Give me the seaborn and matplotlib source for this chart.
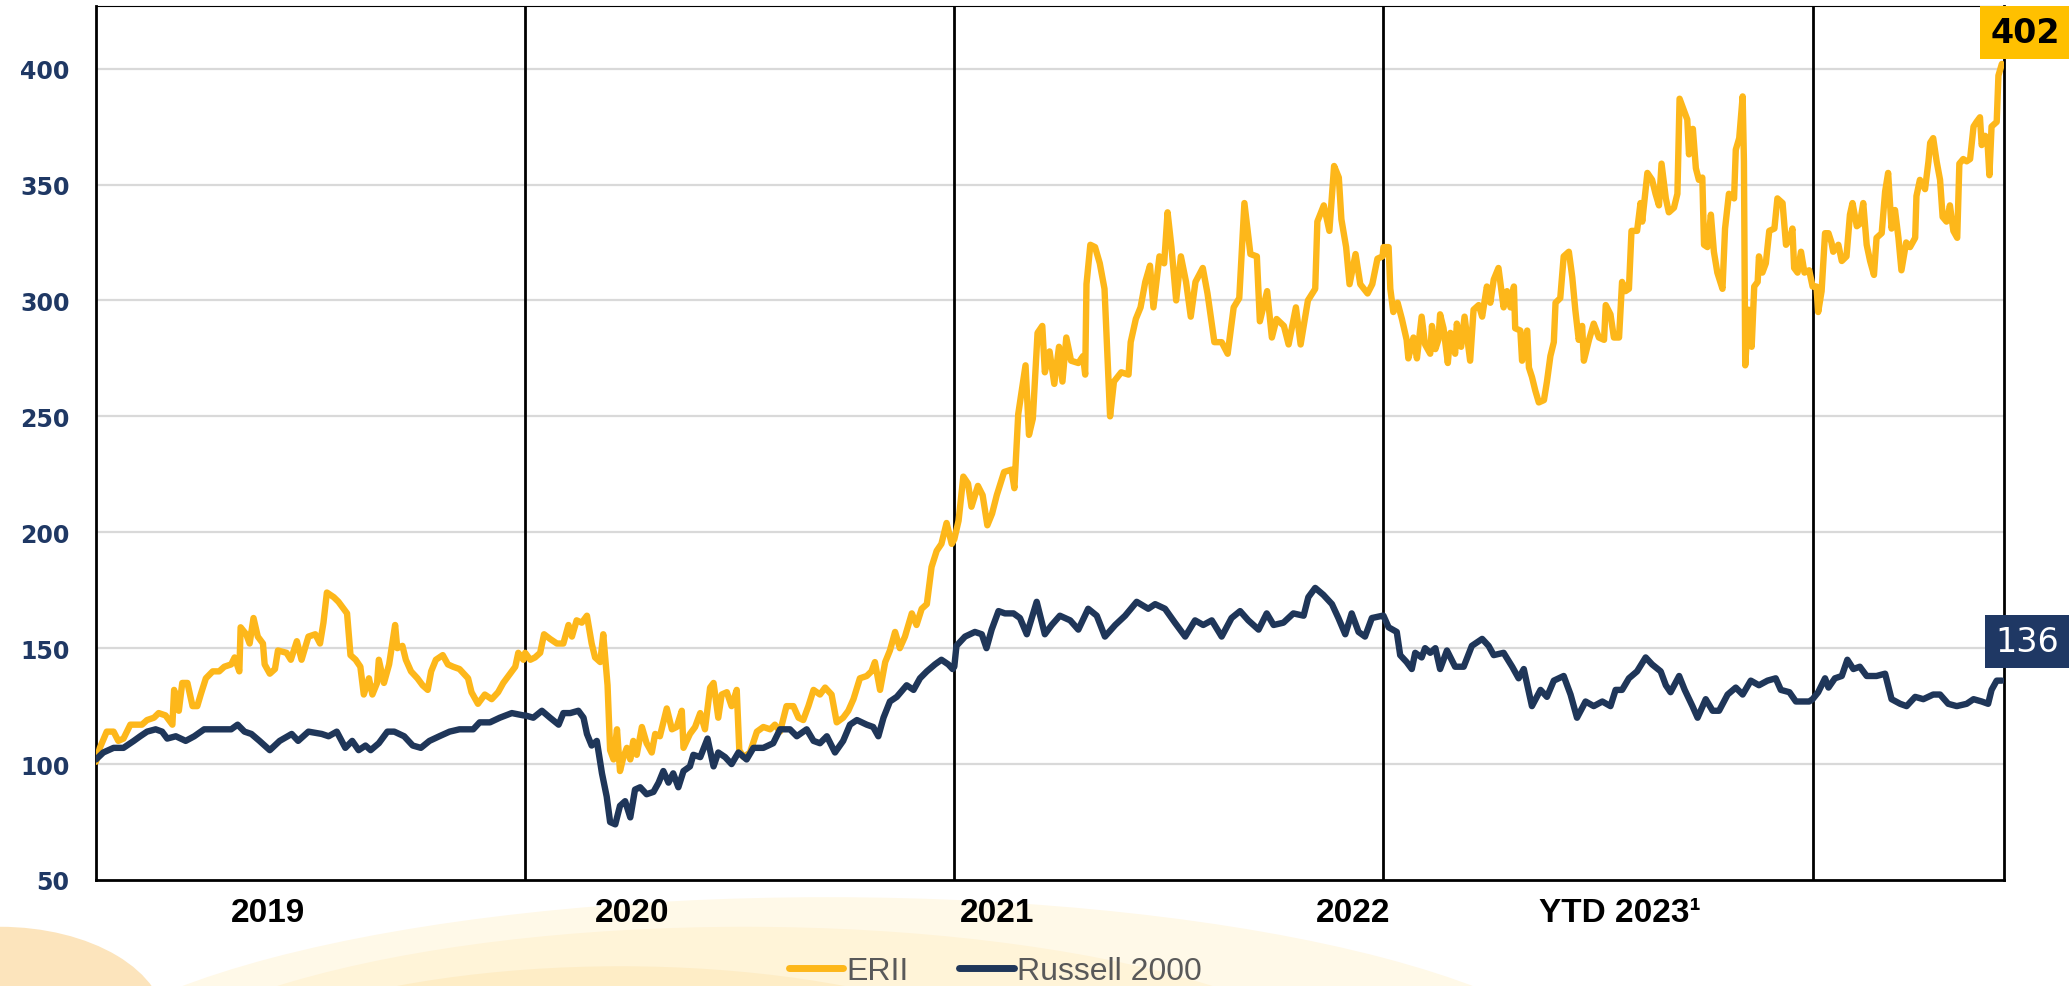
import matplotlib
matplotlib.use("Agg")
import matplotlib.pyplot as plt
from matplotlib.patches import Ellipse
import seaborn as sns
import pandas as pd

# ---- data: fraction of year -> value (indexed, start = 100) ----
erii_2019_t = [0.000, 0.009, 0.025, 0.041, 0.052, 0.064, 0.080, 0.096, 0.107, 0.119, 0.135, 0.146, 0.162, 0.178,
               0.182, 0.193, 0.201, 0.213, 0.225, 0.236, 0.244, 0.256, 0.272, 0.287, 0.299, 0.315, 0.323, 0.334,
               0.337, 0.350, 0.358, 0.367, 0.377, 0.389, 0.393, 0.405, 0.417, 0.424, 0.444, 0.454, 0.468, 0.479,
               0.495, 0.511, 0.522, 0.530, 0.538, 0.554, 0.565, 0.577, 0.585, 0.593, 0.605, 0.616, 0.624, 0.636,
               0.644, 0.655, 0.659, 0.671, 0.683, 0.697, 0.702, 0.714, 0.722, 0.734, 0.749, 0.761, 0.773, 0.781,
               0.792, 0.808, 0.820, 0.832, 0.847, 0.867, 0.875, 0.890, 0.906, 0.922, 0.937, 0.949, 0.961, 0.977,
               0.984, 0.996]
erii_2019 = [101, 107, 114, 114, 110, 111, 117, 117, 117, 119, 120, 122, 121, 117,
             132, 123, 135, 135, 125, 125, 130, 137, 140, 140, 142, 143, 146, 140,
             159, 156, 152, 163, 155, 152, 143, 139, 141, 149, 148, 145, 153, 145,
             155, 156, 152, 161, 174, 172, 170, 167, 165, 147, 145, 142, 130, 137,
             130, 135, 145, 135, 143, 160, 150, 151, 145, 140, 137, 134, 132, 140,
             145, 147, 143, 142, 141, 137, 131, 126, 130, 128, 131, 135, 138, 142,
             148, 145]

erii_2020_t = [0.000, 0.012, 0.023, 0.035, 0.044, 0.058, 0.074, 0.089, 0.101, 0.109, 0.120, 0.132, 0.144, 0.155,
               0.163, 0.175, 0.182, 0.192, 0.198, 0.206, 0.214, 0.221, 0.229, 0.237, 0.245, 0.252, 0.260, 0.272,
               0.283, 0.295, 0.303, 0.314, 0.330, 0.342, 0.353, 0.365, 0.369, 0.384, 0.396, 0.408, 0.419, 0.431,
               0.439, 0.450, 0.458, 0.470, 0.481, 0.493, 0.499, 0.509, 0.524, 0.540, 0.555, 0.571, 0.582, 0.594,
               0.609, 0.625, 0.637, 0.648, 0.660, 0.672, 0.687, 0.699, 0.714, 0.726, 0.741, 0.753, 0.765, 0.780,
               0.796, 0.807, 0.815, 0.827, 0.839, 0.850, 0.862, 0.873, 0.885, 0.901, 0.912, 0.924, 0.936, 0.947,
               0.959, 0.970, 0.982, 0.994]
erii_2020 = [148, 145, 146, 148, 156, 154, 152, 152, 160, 155, 162, 161, 164, 152,
             146, 144, 156, 134, 106, 102, 115, 97, 103, 107, 102, 110, 104, 116,
             109, 105, 113, 112, 124, 115, 116, 123, 107, 113, 116, 122, 115, 133,
             135, 120, 130, 131, 125, 132, 106, 103, 105, 114, 116, 115, 117, 114,
             125, 125, 120, 119, 125, 132, 130, 133, 130, 118, 120, 123, 128, 137,
             138, 140, 144, 132, 144, 149, 157, 150, 155, 165, 160, 167, 169, 185,
             192, 195, 204, 195]

erii_2021_t = [0.000, 0.010, 0.021, 0.032, 0.040, 0.055, 0.066, 0.077, 0.088, 0.099, 0.116, 0.133, 0.140, 0.149,
               0.158, 0.166, 0.174, 0.183, 0.194, 0.205, 0.211, 0.222, 0.233, 0.244, 0.252, 0.261, 0.272, 0.289,
               0.300, 0.305, 0.308, 0.317, 0.328, 0.339, 0.350, 0.363, 0.372, 0.389, 0.406, 0.411, 0.423, 0.434,
               0.445, 0.456, 0.464, 0.478, 0.489, 0.497, 0.506, 0.517, 0.528, 0.540, 0.551, 0.562, 0.579, 0.590,
               0.606, 0.623, 0.637, 0.651, 0.664, 0.676, 0.690, 0.705, 0.712, 0.729, 0.740, 0.751, 0.768, 0.779,
               0.796, 0.807, 0.824, 0.841, 0.846, 0.861, 0.874, 0.885, 0.896, 0.902, 0.913, 0.921, 0.935, 0.946,
               0.963, 0.974, 0.986, 0.998]
erii_2021 = [197, 205, 224, 221, 211, 220, 216, 203, 208, 216, 226, 227, 219, 251,
             262, 272, 242, 249, 286, 289, 269, 278, 264, 280, 265, 284, 274, 273,
             276, 268, 307, 324, 323, 316, 305, 250, 265, 269, 268, 282, 292, 297,
             308, 315, 297, 319, 316, 338, 323, 300, 319, 308, 293, 308, 314, 303,
             282, 282, 277, 297, 301, 342, 320, 319, 291, 304, 284, 292, 289, 281,
             297, 281, 300, 305, 334, 341, 330, 358, 353, 335, 323, 307, 320, 307,
             303, 307, 318, 319]

erii_2022_t = [0.000, 0.012, 0.016, 0.023, 0.033, 0.043, 0.054, 0.058, 0.070, 0.078, 0.089, 0.097, 0.109, 0.113,
               0.121, 0.128, 0.132, 0.140, 0.150, 0.156, 0.167, 0.171, 0.181, 0.189, 0.202, 0.210, 0.222, 0.230,
               0.241, 0.249, 0.257, 0.268, 0.280, 0.288, 0.296, 0.304, 0.307, 0.319, 0.323, 0.335, 0.339, 0.346,
               0.354, 0.362, 0.374, 0.381, 0.389, 0.397, 0.401, 0.412, 0.420, 0.432, 0.440, 0.447, 0.455, 0.463,
               0.467, 0.479, 0.490, 0.502, 0.514, 0.518, 0.529, 0.537, 0.549, 0.556, 0.564, 0.572, 0.578, 0.591,
               0.599, 0.603, 0.615, 0.626, 0.634, 0.642, 0.648, 0.658, 0.665, 0.677, 0.685, 0.690, 0.700, 0.708,
               0.712, 0.721, 0.728, 0.735, 0.743, 0.747, 0.755, 0.763, 0.770, 0.778, 0.790, 0.796, 0.805, 0.817,
               0.821, 0.829, 0.837, 0.840, 0.843, 0.851, 0.858, 0.864, 0.872, 0.875, 0.883, 0.891, 0.899, 0.911,
               0.918, 0.930, 0.938, 0.946, 0.953, 0.957, 0.965, 0.973, 0.981, 0.992]
erii_2022 = [323, 323, 305, 295, 299, 292, 283, 275, 284, 275, 293, 281, 277, 289,
             279, 283, 294, 288, 273, 286, 277, 290, 280, 293, 274, 296, 298, 293,
             306, 299, 309, 314, 297, 304, 297, 306, 288, 287, 274, 287, 271, 267,
             261, 256, 257, 265, 276, 282, 299, 301, 319, 321, 310, 296, 283, 289,
             274, 283, 290, 284, 283, 298, 294, 284, 284, 308, 304, 305, 330, 330,
             342, 334, 355, 352, 346, 341, 359, 344, 338, 340, 346, 387, 382, 378,
             363, 374, 357, 352, 353, 324, 323, 337, 321, 312, 305, 331, 346, 344,
             365, 370, 388, 360, 272, 296, 280, 306, 308, 319, 312, 316, 330, 331,
             344, 342, 324, 326, 331, 314, 312, 321, 312, 313]

erii_2023_t = [0.000, 0.009, 0.013, 0.021, 0.029, 0.037, 0.044, 0.048, 0.060, 0.068, 0.079, 0.087, 0.093, 0.103,
               0.110, 0.118, 0.126, 0.134, 0.143, 0.149, 0.161, 0.169, 0.176, 0.184, 0.192, 0.200, 0.207, 0.218,
               0.227, 0.239, 0.242, 0.250, 0.262, 0.270, 0.274, 0.281, 0.289, 0.297, 0.303, 0.312, 0.320, 0.328,
               0.337, 0.342, 0.351, 0.359, 0.367, 0.375, 0.382, 0.390, 0.394, 0.402, 0.407, 0.412, 0.417, 0.429,
               0.433, 0.441]
erii_2023 = [306, 306, 295, 304, 329, 329, 325, 321, 324, 317, 319, 337, 342, 332,
             333, 342, 324, 317, 311, 327, 329, 347, 355, 331, 339, 327, 313, 325,
             323, 327, 345, 352, 348, 360, 368, 370, 360, 352, 336, 334, 341, 330,
             327, 359, 361, 360, 361, 375, 377, 379, 367, 371, 370, 354, 375, 377,
             397, 402]

r2k_2019_t = [0.000, 0.017, 0.041, 0.064, 0.088, 0.103, 0.119, 0.139, 0.154, 0.166, 0.186, 0.209, 0.229, 0.252,
              0.276, 0.295, 0.315, 0.330, 0.346, 0.362, 0.381, 0.405, 0.428, 0.456, 0.471, 0.495, 0.526, 0.542,
              0.561, 0.581, 0.597, 0.612, 0.628, 0.640, 0.659, 0.679, 0.695, 0.718, 0.738, 0.757, 0.777, 0.800,
              0.824, 0.847, 0.879, 0.894, 0.918, 0.941, 0.969, 0.996]
r2k_2019 = [102, 105, 107, 107, 110, 112, 114, 115, 114, 111, 112, 110, 112, 115,
            115, 115, 115, 117, 114, 113, 110, 106, 110, 113, 110, 114, 113, 112,
            114, 107, 110, 106, 108, 106, 109, 114, 114, 112, 108, 107, 110, 112,
            114, 115, 115, 118, 118, 120, 122, 121]

r2k_2020_t = [0.000, 0.019, 0.039, 0.058, 0.078, 0.089, 0.105, 0.124, 0.136, 0.144, 0.155, 0.167, 0.179, 0.190,
              0.198, 0.210, 0.221, 0.233, 0.245, 0.256, 0.268, 0.283, 0.299, 0.311, 0.322, 0.334, 0.345, 0.357,
              0.369, 0.384, 0.392, 0.408, 0.425, 0.439, 0.450, 0.466, 0.481, 0.497, 0.516, 0.532, 0.555, 0.578,
              0.594, 0.617, 0.633, 0.656, 0.672, 0.687, 0.703, 0.722, 0.741, 0.757, 0.773, 0.796, 0.811, 0.823,
              0.835, 0.850, 0.866, 0.889, 0.905, 0.920, 0.936, 0.955, 0.970, 0.986, 0.996]
r2k_2020 = [121, 120, 123, 120, 117, 122, 122, 123, 120, 113, 108, 110, 96, 86,
            75, 74, 82, 84, 77, 89, 90, 87, 88, 92, 97, 92, 96, 90,
            97, 99, 104, 103, 111, 99, 105, 103, 100, 105, 102, 107, 107, 109,
            115, 115, 112, 115, 110, 109, 112, 105, 110, 117, 119, 117, 116, 112,
            120, 127, 129, 134, 132, 137, 140, 143, 145, 143, 141]

r2k_2021_t = [0.000, 0.005, 0.025, 0.048, 0.064, 0.075, 0.087, 0.103, 0.118, 0.138, 0.153, 0.169, 0.192, 0.211,
              0.227, 0.246, 0.270, 0.289, 0.312, 0.332, 0.351, 0.375, 0.398, 0.425, 0.452, 0.468, 0.491, 0.514,
              0.538, 0.561, 0.580, 0.600, 0.623, 0.646, 0.666, 0.685, 0.709, 0.728, 0.744, 0.767, 0.790, 0.814,
              0.825, 0.841, 0.860, 0.880, 0.895, 0.911, 0.926, 0.942, 0.957, 0.973, 0.998]
r2k_2021 = [142, 151, 155, 157, 156, 150, 158, 166, 165, 165, 163, 156, 170, 156,
            160, 164, 162, 158, 167, 164, 155, 160, 164, 170, 167, 169, 167, 161,
            155, 162, 160, 162, 155, 163, 166, 162, 158, 165, 160, 161, 165, 164,
            172, 176, 173, 169, 163, 156, 165, 157, 155, 163, 164]

r2k_2022_t = [0.000, 0.012, 0.031, 0.039, 0.054, 0.066, 0.074, 0.089, 0.097, 0.109, 0.121, 0.132, 0.148, 0.167,
              0.187, 0.206, 0.230, 0.245, 0.257, 0.280, 0.300, 0.315, 0.327, 0.346, 0.366, 0.381, 0.397, 0.420,
              0.436, 0.451, 0.471, 0.490, 0.510, 0.529, 0.541, 0.556, 0.572, 0.591, 0.611, 0.626, 0.646, 0.658,
              0.669, 0.689, 0.702, 0.720, 0.732, 0.751, 0.767, 0.782, 0.802, 0.821, 0.837, 0.856, 0.875, 0.895,
              0.914, 0.926, 0.946, 0.961, 0.981, 0.992]
r2k_2022 = [164, 159, 157, 147, 144, 141, 148, 146, 150, 148, 150, 141, 149, 142,
            142, 151, 154, 151, 147, 148, 142, 137, 141, 125, 132, 129, 136, 138,
            130, 120, 127, 125, 127, 125, 132, 132, 137, 140, 146, 143, 140, 134,
            131, 138, 132, 125, 120, 128, 123, 123, 130, 133, 130, 136, 134, 136,
            137, 132, 131, 127, 127, 127]

r2k_2023_t = [0.000, 0.013, 0.029, 0.037, 0.052, 0.068, 0.081, 0.095, 0.110, 0.126, 0.149, 0.169, 0.184, 0.204,
              0.219, 0.239, 0.258, 0.281, 0.297, 0.316, 0.336, 0.359, 0.375, 0.394, 0.409, 0.417, 0.429, 0.441]
r2k_2023 = [128, 131, 137, 133, 137, 138, 145, 141, 142, 138, 138, 139, 128, 126,
            125, 129, 128, 130, 130, 126, 125, 126, 128, 127, 126, 132, 136, 136]

years = [2019, 2020, 2021, 2022, 2023]
year_labels = ["2019", "2020", "2021", "2022", "YTD 2023\u00b9"]
label_pos = [2019.40, 2020.25, 2021.10, 2021.93, 2022.55]
x_end = 2023.446

ERII_COLOR = "#FDB71A"
R2K_COLOR = "#1F3659"


def build(name, parts):
    rows = []
    for yr, (ts, vs) in zip(years, parts):
        for t, v in zip(ts, vs):
            rows.append({"t": yr + t, "value": v, "series": name})
    return rows


rows = build("ERII", [(erii_2019_t, erii_2019), (erii_2020_t, erii_2020), (erii_2021_t, erii_2021),
                      (erii_2022_t, erii_2022), (erii_2023_t, erii_2023)])
rows += build("Russell 2000", [(r2k_2019_t, r2k_2019), (r2k_2020_t, r2k_2020), (r2k_2021_t, r2k_2021),
                               (r2k_2022_t, r2k_2022), (r2k_2023_t, r2k_2023)])
df = pd.DataFrame(rows)

sns.set_theme(style="white")
plt.rcParams["font.family"] = ["DejaVu Sans"]

fig = plt.figure(figsize=(20.69, 9.87), dpi=100)

# faint decorative swoosh behind the bottom area
for cx, cy, w, h, col in [(0.40, -0.12, 0.76, 0.42, "#FFF9E8"), (0.36, -0.13, 0.62, 0.38, "#FFF4D8"),
                          (0.30, -0.15, 0.46, 0.34, "#FEEDC6"), (0.0, -0.04, 0.16, 0.20, "#FCE4BC")]:
    fig.patches.append(Ellipse((cx, cy), w, h, transform=fig.transFigure, facecolor=col,
                               edgecolor="none", zorder=-5))

ax = fig.add_axes([96 / 2069, 1 - 881 / 987, (2004 - 96) / 2069, (881 - 7) / 987])
ax.set_facecolor("white")

sns.lineplot(data=df, x="t", y="value", hue="series", palette={"ERII": ERII_COLOR, "Russell 2000": R2K_COLOR},
             estimator=None, sort=True, linewidth=4.6, ax=ax, legend=False, zorder=3)

ax.set_xlim(2019.0, x_end)
ax.set_ylim(50, 427)
ax.set_yticks([50, 100, 150, 200, 250, 300, 350, 400])
for yv in [100, 150, 200, 250, 300, 350, 400]:
    ax.axhline(yv, color="#D9D9D9", linewidth=1.6, zorder=1)
for yr in years[1:]:
    ax.axvline(yr, color="black", linewidth=2.0, zorder=2)

ax.set_xticks(label_pos)
ax.set_xticklabels(year_labels, fontsize=24, fontweight="bold", color="black",
                   family=["Liberation Sans Narrow", "Liberation Sans", "DejaVu Sans"])
ax.tick_params(axis="x", length=0, pad=12)
ax.tick_params(axis="y", length=0, pad=19, labelsize=17, labelcolor="#1F3864")
for lab in ax.get_yticklabels():
    lab.set_fontweight("bold")
ax.set_xlabel("")
ax.set_ylabel("")

for side in ["left", "bottom", "right"]:
    ax.spines[side].set_visible(True)
    ax.spines[side].set_color("black")
    ax.spines[side].set_linewidth(2.0)
ax.spines["top"].set_color("black")
ax.spines["top"].set_linewidth(0.8)

# end value labels
ax.annotate(f"{erii_2023[-1]}", xy=(x_end, erii_2023[-1]), xytext=(21, 31), textcoords="offset pixels",
            ha="center", va="center", fontsize=24, fontweight="bold", color="black", annotation_clip=False,
            bbox=dict(boxstyle="square,pad=0.3", facecolor="#FFC000", edgecolor="none"), zorder=5)
ax.annotate(f"{r2k_2023[-1]}", xy=(x_end, r2k_2023[-1]), xytext=(23, 39), textcoords="offset pixels",
            ha="center", va="center", fontsize=24, color="white", annotation_clip=False,
            bbox=dict(boxstyle="square,pad=0.3", facecolor="#1F3864", edgecolor="none"), zorder=5)

# legend
handles = [plt.Line2D([], [], color=ERII_COLOR, linewidth=5, solid_capstyle="round"),
           plt.Line2D([], [], color=R2K_COLOR, linewidth=5, solid_capstyle="round")]
leg = fig.legend(handles, ["ERII", "Russell 2000"], loc="center", bbox_to_anchor=(0.481, 0.015), ncol=2,
                 frameon=False, handlelength=1.7, handletextpad=0.1, columnspacing=1.6,
                 prop={"family": ["Liberation Sans Narrow", "Liberation Sans", "DejaVu Sans"], "size": 23})
for txt in leg.get_texts():
    txt.set_color("#595959")

fig.savefig("out.png", dpi=100)
